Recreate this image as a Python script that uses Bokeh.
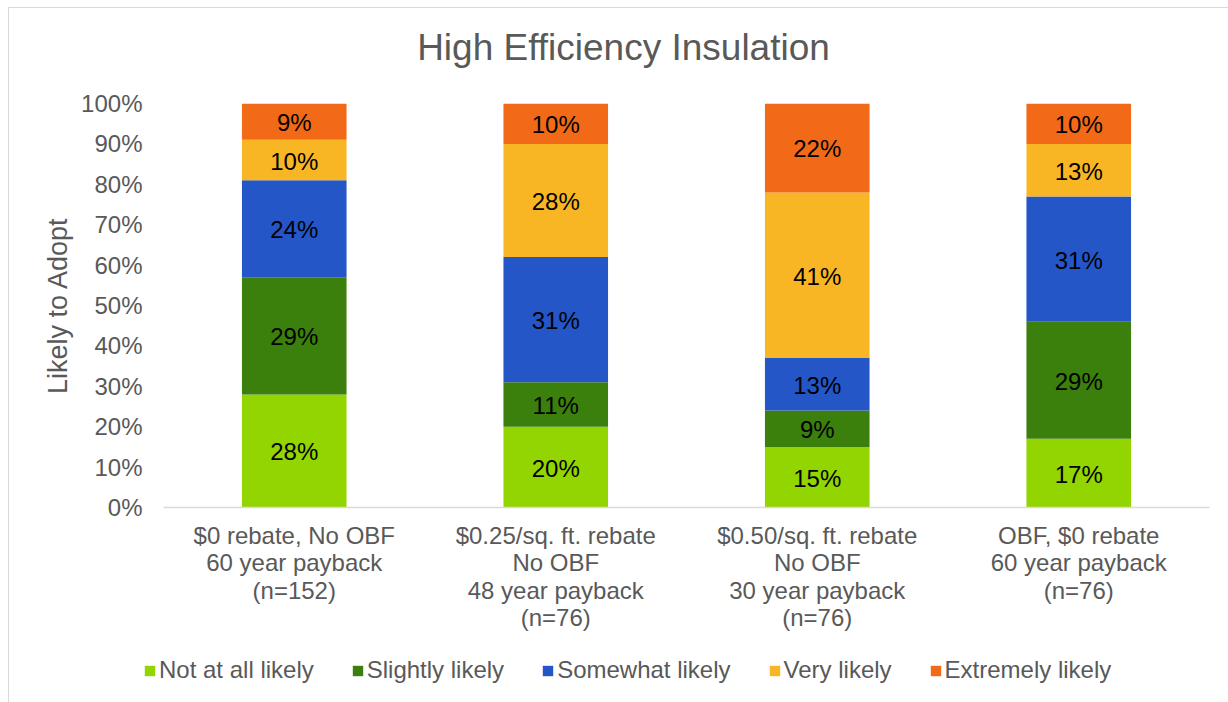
from bokeh.plotting import figure
from bokeh.layouts import column
from bokeh.models import (FactorRange, Range1d, FixedTicker, PrintfTickFormatter,
                          Legend, LegendItem, ColumnDataSource)
from bokeh.core.properties import value
from bokeh.embed import file_html
from bokeh.resources import INLINE

# ---------------- data ----------------
title_text = "High Efficiency Insulation"
y_label = "Likely to Adopt"
categories = [
    "$0 rebate, No OBF\n60 year payback\n(n=152)",
    "$0.25/sq. ft. rebate\nNo OBF\n48 year payback\n(n=76)",
    "$0.50/sq. ft. rebate\nNo OBF\n30 year payback\n(n=76)",
    "OBF, $0 rebate\n60 year payback\n(n=76)",
]
series_names = ["Not at all likely", "Slightly likely", "Somewhat likely",
                "Very likely", "Extremely likely"]
not_at_all = [28, 20, 15, 17]
slightly = [29, 11, 9, 29]
somewhat = [24, 31, 13, 31]
very = [10, 28, 41, 13]
extremely = [9, 10, 22, 10]
y_ticks = [0, 10, 20, 30, 40, 50, 60, 70, 80, 90, 100]

colors = ["#93D500", "#3B7F0C", "#2456C8", "#F9B624", "#F26A17"]

FONT = "Liberation Sans"
GRAY = "#595959"
W = 1219
H0 = 80   # title strip
H2 = 57   # legend strip


def bare(fig):
    fig.xgrid.visible = False
    fig.ygrid.visible = False
    fig.outline_line_color = None
    fig.min_border = 0
    fig.frame_align = False
    return fig


# ---------------- title strip ----------------
p0 = bare(figure(width=W, height=H0, x_range=Range1d(0, W), y_range=Range1d(0, H0),
                 x_axis_location=None, y_axis_location=None,
                 output_backend="svg", toolbar_location=None))
p0.text(x=[614], y=[41], text=[title_text], text_align="center",
        text_baseline="alphabetic", text_font=value(FONT), text_font_size="37px",
        text_color=GRAY)

# ---------------- main chart ----------------
series = [not_at_all, slightly, somewhat, very, extremely]
keys = ["s0", "s1", "s2", "s3", "s4"]
data = {"cat": categories}
for k, s in zip(keys, series):
    data[k] = s
source = ColumnDataSource(data)

p = figure(x_range=FactorRange(*categories, range_padding=0),
           y_range=Range1d(0, 100),
           width=W, height=557,
           output_backend="svg", toolbar_location=None)
bare(p)
p.min_border_left = 154
p.min_border_right = 19
p.min_border_top = 15
p.min_border_bottom = 138

renderers = p.vbar_stack(keys, x="cat", width=0.4, color=colors, line_color=None,
                         source=source)

# data labels
lab_x, lab_y, lab_t = [], [], []
for i, c in enumerate(categories):
    base = 0
    for s in series:
        v = s[i]
        lab_x.append(c)
        lab_y.append(base + v / 2)
        lab_t.append(f"{v}%")
        base += v
p.text(x=lab_x, y=lab_y, text=lab_t, text_align="center", text_baseline="middle",
       y_offset=1, text_font=value(FONT), text_font_size="24px", text_color="black")

yax = p.yaxis[0]
yax.ticker = FixedTicker(ticks=y_ticks)
yax.formatter = PrintfTickFormatter(format="%d%%")
yax.axis_line_color = None
yax.major_tick_line_color = None
yax.minor_tick_line_color = None
yax.major_tick_out = 0
yax.major_tick_in = 0
yax.major_label_standoff = 21
yax.major_label_text_font = FONT
yax.major_label_text_font_size = "24px"
yax.major_label_text_color = GRAY
yax.axis_label = y_label
yax.axis_label_text_font = FONT
yax.axis_label_text_font_size = "27px"
yax.axis_label_text_font_style = "normal"
yax.axis_label_text_color = GRAY
yax.axis_label_standoff = 5

xax = p.xaxis[0]
xax.axis_line_color = "#D9D9D9"
xax.axis_line_width = 1.5
xax.major_tick_line_color = None
xax.minor_tick_line_color = None
xax.major_tick_out = 0
xax.major_tick_in = 0
xax.major_label_standoff = 14
xax.major_label_text_font = FONT
xax.major_label_text_font_size = "24px"
xax.major_label_text_color = GRAY
xax.major_label_text_line_height = 1.02

# ---------------- legend strip ----------------
p2 = bare(figure(width=W, height=H2, x_range=Range1d(0, 1), y_range=Range1d(0, 1),
                 x_axis_location=None, y_axis_location=None,
                 output_backend="svg", toolbar_location=None))
# zero-height proxy bars that only provide the legend keys
keys_r = []
for name, col in zip(series_names, colors):
    keys_r.append(p2.vbar(x=[0.5], top=[0], bottom=[0], width=0.0,
                          fill_color=col, line_color=None))
legend = Legend(items=[LegendItem(label=n, renderers=[r]) for n, r in zip(series_names, keys_r)],
                orientation="horizontal", location=(134, 18),
                glyph_width=13, glyph_height=13, label_standoff=3, spacing=37,
                padding=0, margin=0, border_line_color=None, background_fill_alpha=0,
                label_text_font=FONT, label_text_font_size="24px",
                label_text_color=GRAY)
p2.add_layout(legend, "center")

layout = column(p0, p, p2, spacing=0,
                styles={"margin-left": "8px", "margin-top": "7px",
                        "border-top": "1px solid #D9D9D9",
                        "border-left": "1px solid #D9D9D9"})

open("out.html", "w").write(file_html(layout, INLINE))
